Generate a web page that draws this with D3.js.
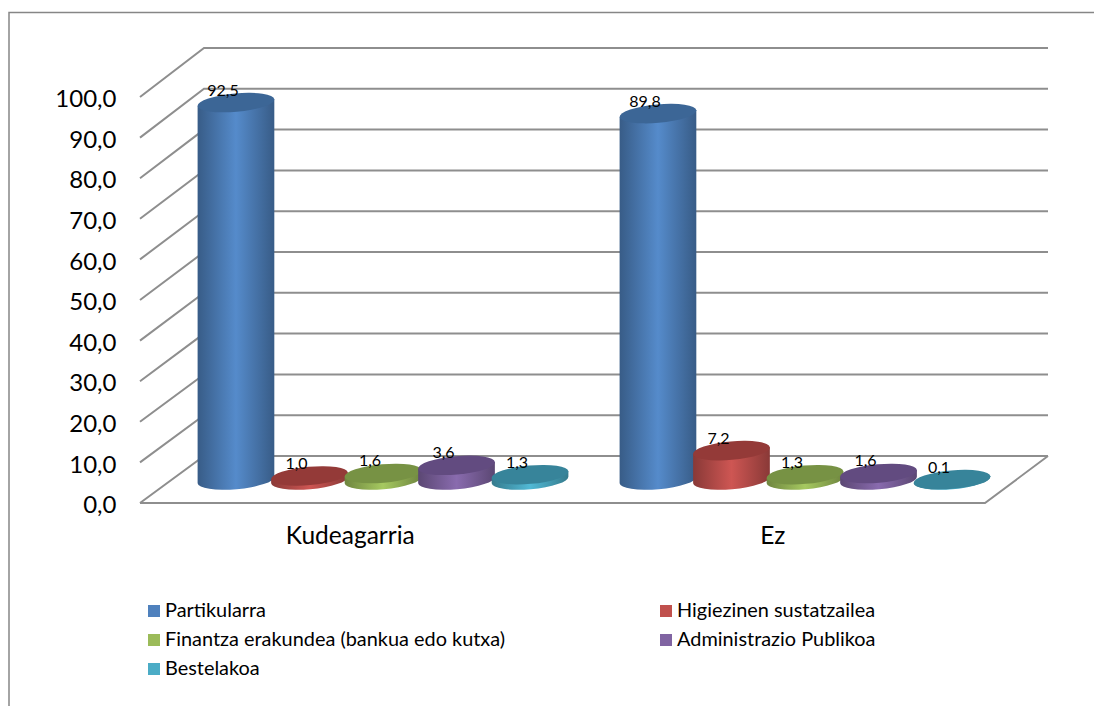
<!DOCTYPE html>
<html>
<head>
<meta charset="utf-8">
<script src="https://cdn.jsdelivr.net/npm/d3@7"></script>
<style>
  html, body { margin: 0; padding: 0; background: #fff; }
  svg { display: block; font-family: Lato, "Open Sans", sans-serif; }
</style>
</head>
<body>
<div id="chart"></div>
<script>
let categories = ["Kudeagarria", "Ez"];
let seriesNames = ["Partikularra", "Higiezinen sustatzailea", "Finantza erakundea (bankua edo kutxa)", "Administrazio Publikoa", "Bestelakoa"];
let partikularra = [92.5, 89.8];
let higiezinen = [1.0, 7.2];
let finantza = [1.6, 1.3];
let administrazio = [3.6, 1.6];
let bestelakoa = [1.3, 0.1];
let seriesValues = [partikularra, higiezinen, finantza, administrazio, bestelakoa];
let seriesColors = ["#4f81bd", "#c0504d", "#9bbb59", "#8064a2", "#4bacc6"];
let topColors = ["#3c6696", "#943a38", "#779244", "#624b80", "#37849a"];
let yTicks = [0, 10, 20, 30, 40, 50, 60, 70, 80, 90, 100];

let width = 1094, height = 706;
let gridColor = "#8e8e8e";
let comma = d3.format(".1f");
let fmt = d => comma(d).replace(".", ",");

let svg = d3.select("#chart").append("svg")
    .attr("width", width)
    .attr("height", height);

// chart frame, only left and top are visible
svg.append("path")
    .attr("d", "M9,706V12.5H1094")
    .attr("fill", "none")
    .attr("stroke", "#868686")
    .attr("stroke-width", 1.5);

// front plane, back wall and the plane the cylinders stand on
let yFront = d3.scaleLinear().domain([0, 100]).range([503, 97]);
let yBack = d3.scaleLinear().domain([0, 100]).range([456, 48]);
let yBar = d3.scaleLinear().domain([0, 100]).range([480, 72]);

let xFront = d3.scaleBand().domain(categories).range([140, 985]);
let xBar = d3.scaleBand().domain(categories).range([172, 1016]);
let xSeries = d3.scaleBand().domain(seriesNames).range([0, xBar.bandwidth()]).paddingInner(0).paddingOuter(0.37);

let backLeft = 204, backRight = 1048;

svg.append("g").selectAll("path")
    .data(yTicks)
    .enter()
    .append("path")
    .attr("d", d => `M140,${yFront(d)}L${backLeft},${yBack(d)}H${backRight}`)
    .attr("fill", "none")
    .attr("stroke", gridColor)
    .attr("stroke-width", 2);

// floor
svg.append("path")
    .attr("d", `M140,${yFront(0)}H985L${backRight},${yBack(0)}`)
    .attr("fill", "none")
    .attr("stroke", gridColor)
    .attr("stroke-width", 2);

// axes
let yAxis = svg.append("g")
    .attr("transform", "translate(119.5,2)")
    .call(d3.axisLeft(yFront).tickValues(yTicks).tickSize(0).tickFormat(fmt));
yAxis.select(".domain").remove();
yAxis.selectAll("text")
    .attr("fill", "#000")
    .style("font-size", "24px")
    .style("font-family", "Lato, sans-serif");

let xAxis = svg.append("g")
    .attr("transform", "translate(-1,524)")
    .call(d3.axisBottom(xFront).tickSize(0));
xAxis.select(".domain").remove();
xAxis.selectAll("text")
    .attr("fill", "#000")
    .style("font-size", "24.5px")
    .style("font-family", "Lato, sans-serif");

// gradients for the cylinder sides
let defs = svg.append("defs");
seriesNames.forEach((name, i) => {
    let c = d3.rgb(seriesColors[i]);
    let grad = defs.append("linearGradient").attr("id", "side" + i);
    grad.append("stop").attr("offset", "0%").attr("stop-color", c.darker(0.95));
    grad.append("stop").attr("offset", "50%").attr("stop-color", c.brighter(0.2));
    grad.append("stop").attr("offset", "100%").attr("stop-color", c.darker(0.95));
});

let rx = 38.5, ry = 9.2, tilt = -5;
let dx = rx * Math.cos(tilt * Math.PI / 180);
let dy = rx * Math.sin(tilt * Math.PI / 180);

let bars = [];
categories.forEach((cat, c) => {
    seriesNames.forEach((name, s) => {
        bars.push({ cat: cat, name: name, s: s, value: seriesValues[s][c] });
    });
});

let barX = d => xBar(d.cat) + xSeries(d.name) + xSeries.bandwidth() / 2;

let cyl = svg.append("g").selectAll("g")
    .data(bars)
    .enter()
    .append("g");

cyl.append("path")
    .attr("fill", d => `url(#side${d.s})`)
    .attr("d", d => {
        let cx = barX(d), top = yBar(d.value), base = yBar(0);
        return `M${cx - dx},${top - dy}L${cx - dx},${base - dy}` +
            `A${rx},${ry} ${tilt} 0 0 ${cx + dx},${base + dy}` +
            `L${cx + dx},${top + dy}Z`;
    });

cyl.append("ellipse")
    .attr("rx", rx)
    .attr("ry", ry)
    .attr("fill", d => topColors[d.s])
    .attr("transform", d => `translate(${barX(d)},${yBar(d.value)}) rotate(${tilt})`);

// value labels
svg.append("g").selectAll("text")
    .data(bars)
    .enter()
    .append("text")
    .attr("x", d => barX(d) - 13)
    .attr("y", d => yBar(d.value) - 7)
    .attr("text-anchor", "middle")
    .style("font-size", "16px")
    .text(d => fmt(d.value));

// legend
let legendCols = [148, 660];
let legendRows = [611, 640, 669];
let legend = svg.append("g").selectAll("g")
    .data(seriesNames)
    .enter()
    .append("g")
    .attr("transform", (d, i) => `translate(${legendCols[i % 2]},${legendRows[Math.floor(i / 2)]})`);

legend.append("rect")
    .attr("y", -6)
    .attr("width", 12)
    .attr("height", 12)
    .attr("fill", (d, i) => seriesColors[i]);

legend.append("text")
    .attr("x", 17)
    .attr("y", 6)
    .style("font-size", "19.9px")
    .text(d => d);
</script>
</body>
</html>
